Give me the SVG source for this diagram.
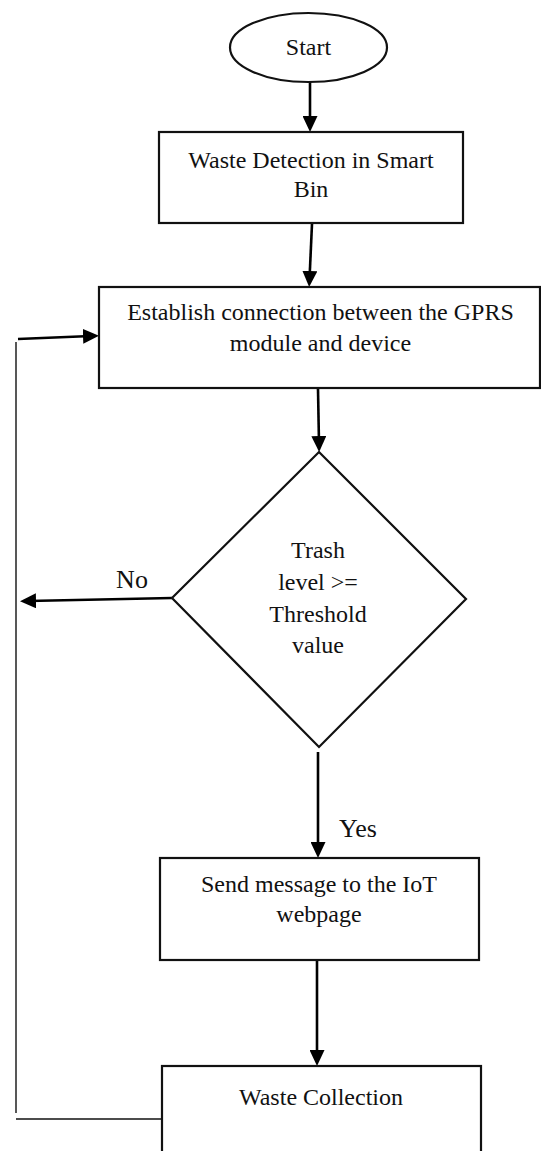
<svg xmlns="http://www.w3.org/2000/svg" width="541" height="1151" viewBox="0 0 541 1151">
  <defs>
    <marker id="arrow" markerUnits="userSpaceOnUse" markerWidth="16" markerHeight="15" refX="8" refY="7.5" orient="auto">
      <path d="M0,0 L16,7.5 L0,15 z" fill="#000"/>
    </marker>
    <style>
      .shape { fill: #fff; stroke: #111; stroke-width: 2.2; }
      .flow { fill: none; stroke: #000; stroke-width: 2.6; marker-end: url(#arrow); }
      .thin { fill: none; stroke: #111; stroke-width: 1.4; }
      .label { font-family: "Liberation Serif", "Times New Roman", serif; font-size: 24px; fill: #111; text-anchor: middle; }
      .branch { font-family: "Liberation Serif", "Times New Roman", serif; font-size: 26px; fill: #111; text-anchor: middle; }
    </style>
  </defs>
  <rect width="541" height="1151" fill="#fff"/>

  <g id="connectors">
    <line class="flow" x1="310" y1="82" x2="310" y2="124"/>
    <line class="flow" x1="312" y1="224" x2="309.5" y2="279"/>
    <line class="flow" x1="318" y1="389" x2="319" y2="444"/>
    <line class="flow" x1="172" y1="598" x2="28" y2="601"/>
    <line class="flow" x1="318" y1="752" x2="318" y2="850"/>
    <line class="flow" x1="317" y1="961" x2="317" y2="1058"/>
    <!-- return loop back to the connection step -->
    <line class="thin" x1="163" y1="1119" x2="16" y2="1119"/>
    <line class="thin" x1="16" y1="1113" x2="16" y2="342"/>
    <line class="flow" x1="18" y1="339" x2="91" y2="336"/>
    <text class="branch" x="132" y="588">No</text>
    <text class="branch" x="358" y="837">Yes</text>
  </g>

  <g id="start">
    <ellipse class="shape" cx="308.5" cy="47.5" rx="78.5" ry="34.5"/>
    <text class="label" x="308.5" y="55">Start</text>
  </g>

  <g id="detect">
    <rect class="shape" x="159" y="132" width="304" height="91"/>
    <text class="label" x="311" y="168">Waste Detection in Smart</text>
    <text class="label" x="311" y="197">Bin</text>
  </g>

  <g id="connect">
    <rect class="shape" x="99" y="287" width="441" height="101"/>
    <text class="label" x="320.5" y="320">Establish connection between the GPRS</text>
    <text class="label" x="320.5" y="351">module and device</text>
  </g>

  <g id="decision">
    <polygon class="shape" points="319,452 466,599 319,747 172,598"/>
    <text class="label" x="318" y="558">Trash</text>
    <text class="label" x="318" y="590">level &gt;=</text>
    <text class="label" x="318" y="622">Threshold</text>
    <text class="label" x="318" y="653">value</text>
  </g>

  <g id="notify">
    <rect class="shape" x="160" y="858" width="319" height="102"/>
    <text class="label" x="319" y="892">Send message to the IoT</text>
    <text class="label" x="319" y="922">webpage</text>
  </g>

  <g id="collect">
    <rect class="shape" x="162" y="1066" width="319" height="100"/>
    <text class="label" x="321" y="1105">Waste Collection</text>
  </g>
</svg>
